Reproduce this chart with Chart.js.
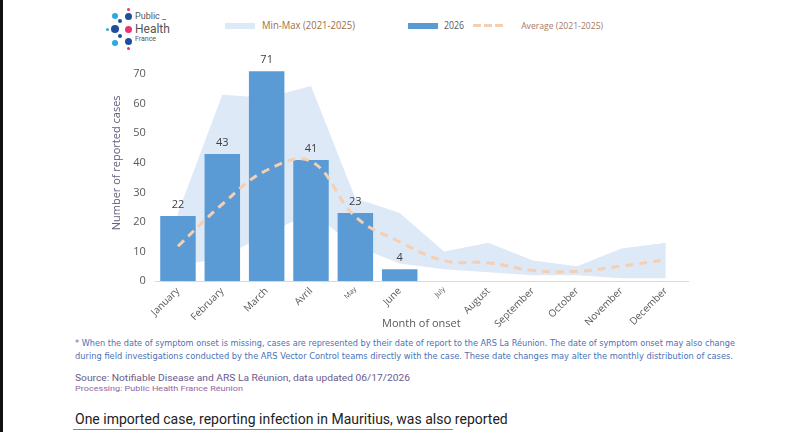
<!DOCTYPE html>
<html lang="en">
<head>
  <meta charset="UTF-8">
  <title>Monthly reported cases</title>
  <script src="https://cdn.jsdelivr.net/npm/chart.js"></script>
  <style>
    body {
      margin: 0;
      width: 794px;
      height: 432px;
      background: #fff;
      font-family: "Open Sans", sans-serif;
      position: relative;
      overflow: hidden;
    }
    #edge {
      position: absolute; left: 0; top: 0; width: 3px; height: 432px; background: #111;
    }
    .dot { position: absolute; border-radius: 50%; }
    .logo-txt { position: absolute; color: #555; font-family: "Roboto", sans-serif; }
    #legend { position: absolute; top: 17px; left: 0; }
    .lg { position: absolute; white-space: nowrap; }
    #chart-container {
      position: absolute;
      left: 100px;
      top: 28px;
      width: 592px;
      height: 306px;
    }
    .note { position: absolute; white-space: nowrap; transform-origin: 0 0; }
    .cond { font-family: 'Liberation Sans Narrow', 'DejaVu Sans Condensed', 'Roboto', sans-serif; color: #4a72b8; font-size: 9.5px; }
  </style>
</head>
<body>
<div id="edge"></div>

<!-- logo -->
<div id="logo">
  <div class="dot" style="left:127px;top:8px;width:3px;height:3px;background:#e8336b"></div>
  <div class="dot" style="left:112px;top:13px;width:6px;height:6px;background:#29abe2"></div>
  <div class="dot" style="left:125px;top:13px;width:7px;height:7px;background:#1f4e9b"></div>
  <div class="dot" style="left:118px;top:19px;width:4px;height:4px;background:#1f4e9b"></div>
  <div class="dot" style="left:106px;top:28px;width:3px;height:3px;background:#29abe2"></div>
  <div class="dot" style="left:111px;top:25px;width:8px;height:8px;background:#1f4e9b"></div>
  <div class="dot" style="left:125px;top:26px;width:7px;height:7px;background:#e8336b"></div>
  <div class="dot" style="left:118px;top:34px;width:4px;height:4px;background:#1f4e9b"></div>
  <div class="dot" style="left:112px;top:40px;width:6px;height:6px;background:#29abe2"></div>
  <div class="dot" style="left:125px;top:38px;width:7px;height:7px;background:#1f4e9b"></div>
  <div class="dot" style="left:127px;top:47px;width:3px;height:3px;background:#e8336b"></div>
  <div class="logo-txt" style="left:135px;top:11px;font-size:9px">Public <span style="letter-spacing:1px">_</span></div>
  <div class="logo-txt" style="left:135px;top:22px;font-size:12px">Health</div>
  <div class="logo-txt" style="left:135px;top:35px;font-size:7px">France</div>
</div>

<!-- legend -->
<div id="legend">
  <div class="lg" style="left:225px;top:6px;width:30px;height:6px;background:#dde9f6"></div>
  <div class="lg fit" data-w="93" style="left:257px;top:1px;color:#9f6d3e;font-size:10.5px">Min-Max (2021-2025)</div>
  <div class="lg" style="left:408px;top:6px;width:30px;height:6px;background:#5b9bd5"></div>
  <div class="lg fit" data-w="20" style="left:442px;top:1px;color:#595959;font-size:10.5px">2026</div>
  <div class="lg" style="left:473px;top:7px;width:8px;height:3px;background:#f5cfb0"></div>
  <div class="lg" style="left:484px;top:7px;width:8px;height:3px;background:#f5cfb0"></div>
  <div class="lg" style="left:495px;top:7px;width:8px;height:3px;background:#f5cfb0"></div>
  <div class="lg fit" data-w="82" style="left:517px;top:2px;color:#a57a66;font-size:9.5px">Average (2021-2025)</div>
</div>

<div id="chart-container">
  <canvas id="chart"></canvas>
</div>

<div class="note" style="left:382px;top:315px;font-size:11px;color:#595959">Month of onset</div>

<div class="note cond fit" data-w="660" style="left:75px;top:337px">* When the date of symptom onset is missing, cases are represented by their date of report to the ARS La Réunion. The date of symptom onset may also change</div>
<div class="note cond fit" data-w="658" style="left:75px;top:350px">during field investigations conducted by the ARS Vector Control teams directly with the case. These date changes may alter the monthly distribution of cases.</div>
<div class="note fit" data-w="335" style="left:75px;top:372px;font-family:'Roboto',sans-serif;font-size:9.5px;color:#6a5a8c">Source: Notifiable Disease and ARS La Réunion, data updated 06/17/2026</div>
<div class="note fit" data-w="168" style="left:75px;top:384px;font-family:'Roboto',sans-serif;font-size:8px;color:#9566a0">Processing: Public Health France Réunion</div>
<div class="note" style="left:75px;top:411px;font-family:'Roboto',sans-serif;font-size:14px;color:#222">One imported case, reporting infection in Mauritius, was also reported</div>
<div class="note" style="left:73px;top:429px;width:380px;height:1px;background:#888"></div>

<script>
const months = ["January", "February", "March", "Avril", "May", "June", "July",
  "August", "September", "October", "November", "December"];
const cases2026 = [22, 43, 71, 41, 23, 4, null, null, null, null, null, null];
const minValues = [5, 8, 16, 23, 12, 6, 4, 3, 2, 2, 1, 1];
const maxValues = [23, 63, 62, 66, 28, 23, 10, 13, 7, 5, 11, 13];
const avgValues = [11.8, 26, 37.5, 40.5, 21.8, 13.3, 6.9, 6.2, 3.6, 3.3, 5.1, 7.2];
const yTicks = [0, 10, 20, 30, 40, 50, 60, 70];

// squeeze text blocks to the width they take in the original
document.querySelectorAll('.fit').forEach(el => {
  const w = el.getBoundingClientRect().width;
  const target = parseFloat(el.dataset.w);
  if (w > 0) el.style.transform = `scaleX(${target / w})`;
});

// small plugin to write the value above each 2026 bar
const barValues = {
  id: 'barValues',
  afterDatasetsDraw(chart) {
    const ctx = chart.ctx;
    const meta = chart.getDatasetMeta(2);
    ctx.save();
    ctx.font = '11px "Open Sans", sans-serif';
    ctx.fillStyle = '#404040';
    ctx.textAlign = 'center';
    ctx.textBaseline = 'bottom';
    meta.data.forEach((bar, i) => {
      const v = cases2026[i];
      if (v == null) return;
      ctx.fillText(String(v), bar.x, bar.y - 6);
    });
    ctx.restore();
  }
};

const ctx = document.getElementById("chart").getContext("2d");
new Chart(ctx, {
  data: {
    labels: months,
    datasets: [
      {
        type: 'line',
        label: 'min',
        data: minValues,
        borderWidth: 0,
        pointRadius: 0,
        fill: false,
        order: 3
      },
      {
        type: 'line',
        label: 'Min-Max (2021-2025)',
        data: maxValues,
        borderWidth: 0,
        pointRadius: 0,
        backgroundColor: '#dde9f6',
        fill: '-1',
        order: 3
      },
      {
        type: 'bar',
        label: '2026',
        data: cases2026,
        backgroundColor: '#5b9bd5',
        barPercentage: 0.8,
        categoryPercentage: 1,
        order: 2
      },
      {
        type: 'line',
        label: 'Average (2021-2025)',
        data: avgValues,
        borderColor: '#f5cfb0',
        borderWidth: 3,
        borderDash: [8, 6],
        pointRadius: 0,
        tension: 0.4,
        fill: false,
        order: 1
      }
    ]
  },
  options: {
    responsive: true,
    maintainAspectRatio: false,
    animation: false,
    layout: { padding: { left: 0, right: 4, top: 0, bottom: 0 } },
    plugins: {
      legend: { display: false },
      tooltip: { enabled: false }
    },
    scales: {
      x: {
        offset: true,
        grid: { display: false, drawTicks: false },
        border: { color: '#d9d9d9', width: 1 },
        ticks: {
          minRotation: 45,
          maxRotation: 45,
          padding: 4,
          color: '#595959',
          font: (c) => ({
            family: '"Open Sans", sans-serif',
            size: (c.index === 4 || c.index === 6) ? 7 : 10
          })
        }
      },
      y: {
        min: 0,
        max: 80,
        grid: { display: false, drawTicks: false },
        border: { display: false },
        afterBuildTicks: (axis) => {
          axis.ticks = yTicks.map(v => ({ value: v }));
        },
        ticks: {
          padding: 10,
          color: '#595959',
          font: { family: '"Open Sans", sans-serif', size: 11 }
        },
        title: {
          display: true,
          text: 'Number of reported cases',
          color: '#5e5e7e',
          font: { family: '"Open Sans", sans-serif', size: 11 },
          padding: { top: 10, bottom: 0 }
        }
      }
    }
  },
  plugins: [barValues]
});
</script>

</body>
</html>
